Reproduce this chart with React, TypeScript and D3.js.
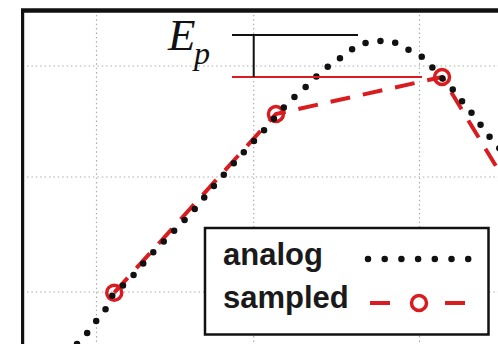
import React from "react";
import * as d3 from "d3";

// Grid positions (time and amplitude units)
const X_TICKS = [1, 2, 3];
const Y_TICKS = [1, 2, 3];

// Continuous (analog) signal
const analogT = [
  0.876, 0.94, 1.003, 1.067, 1.113, 1.188, 1.258, 1.328, 1.468, 1.608, 1.741,
  1.938, 2.074, 2.201, 2.273, 2.346, 2.412, 2.49, 2.569, 2.653, 2.75, 2.84,
  2.925, 3.015, 3.081, 3.147, 3.214, 3.274, 3.334, 3.395, 3.449, 3.515,
];
const analogV = [
  0.548, 0.643, 0.757, 0.87, 0.994, 1.078, 1.183, 1.296, 1.496, 1.696, 1.913,
  2.225, 2.441, 2.658, 2.757, 2.856, 2.955, 3.036, 3.126, 3.198, 3.225, 3.216,
  3.153, 3.081, 2.982, 2.874, 2.766, 2.649, 2.541, 2.414, 2.315, 2.198,
];

// Sampled signal
const sampleT = [1.113, 2.134, 3.136, 4.125];
const sampleV = [0.994, 2.568, 2.901, 0.513];

// Peak-error annotation levels
const EP_TOP = 3.28;
const EP_BOTTOM = 2.9;
const EP_X = 2;
const EP_START = 1.862;
const EP_TOP_END = 2.629;
const EP_BOTTOM_END = 3.015;

const LEGEND_LABELS = ["analog", "sampled"];

const W = 498;
const H = 344;
const RED = "#d91c1f";
const INK = "#111";

const x = d3.scaleLinear().domain(X_TICKS).range([96.5, 253.7, 419.5]);
const y = d3.scaleLinear().domain(Y_TICKS).range([292, 177, 66]);

const X_MIN = 0.53;
const Y_MAX = 3.5;

export default function App() {
  const left = x(X_MIN);
  const top = y(Y_MAX);

  const analogData = analogT.map((t, i) => [t, analogV[i]] as [number, number]);
  const sampleData = sampleT.map((t, i) => [t, sampleV[i]] as [number, number]);

  const analogPath = d3
    .line<[number, number]>()
    .x((d) => x(d[0]))
    .y((d) => y(d[1]))
    .curve(d3.curveCatmullRom.alpha(0.5))(analogData) as string;

  const samplePath = d3
    .line<[number, number]>()
    .x((d) => x(d[0]))
    .y((d) => y(d[1]))(sampleData) as string;

  const lx = 205;
  const ly = 228;
  const lw = 283.5;
  const lh = 106.5;

  return (
    <svg
      width={W}
      height={H}
      style={{ position: "fixed", left: 0, top: 0, display: "block", background: "#fff" }}
    >
      <defs>
        <clipPath id="plot">
          <rect x={left} y={top} width={W - left} height={H - top} />
        </clipPath>
      </defs>

      {/* grid */}
      <g stroke="#a8a8a8" strokeWidth={1.2} strokeDasharray="1.4 3">
        {X_TICKS.map((t) => (
          <line key={"gx" + t} x1={x(t)} x2={x(t)} y1={top} y2={H} />
        ))}
        {Y_TICKS.map((v) => (
          <line key={"gy" + v} x1={left} x2={W} y1={y(v)} y2={y(v)} />
        ))}
      </g>

      <g clipPath="url(#plot)">
        {/* sampled */}
        <path d={samplePath} fill="none" stroke={RED} strokeWidth={4} strokeDasharray="20 13" />
        {sampleData.map((d, i) => (
          <circle key={i} cx={x(d[0])} cy={y(d[1])} r={7.5} fill="none" stroke={RED} strokeWidth={3.5} />
        ))}
        {/* analog */}
        <path
          d={analogPath}
          fill="none"
          stroke={INK}
          strokeWidth={6.5}
          strokeLinecap="round"
          strokeDasharray="0 15"
        />
      </g>

      {/* peak error annotation */}
      <line x1={x(EP_START)} x2={x(EP_TOP_END)} y1={y(EP_TOP)} y2={y(EP_TOP)} stroke={INK} strokeWidth={2} />
      <line x1={x(EP_START)} x2={x(EP_BOTTOM_END)} y1={y(EP_BOTTOM)} y2={y(EP_BOTTOM)} stroke={RED} strokeWidth={2} />
      <line x1={x(EP_X)} x2={x(EP_X)} y1={y(EP_TOP)} y2={y(EP_BOTTOM)} stroke={INK} strokeWidth={2} />
      <text x={168} y={50} fontFamily="'Liberation Serif', serif" fontStyle="italic" fontSize={45} fill={INK}>
        E
        <tspan x={194} y={64} fontSize={32}>
          p
        </tspan>
      </text>

      {/* axes frame */}
      <line x1={left - 1.6} x2={W} y1={top} y2={top} stroke={INK} strokeWidth={4.5} />
      <line x1={left} x2={left} y1={top} y2={H} stroke={INK} strokeWidth={3.2} />

      {/* legend */}
      <rect x={lx} y={ly} width={lw} height={lh} fill="#fff" stroke={INK} strokeWidth={2.5} />
      <g fontFamily="'Liberation Sans', Arial, sans-serif" fontWeight="bold" fontSize={31} fill="#1a1a1a">
        <text x={223} y={265}>{LEGEND_LABELS[0]}</text>
        <text x={223} y={308}>{LEGEND_LABELS[1]}</text>
      </g>
      <line
        x1={368}
        x2={468.2}
        y1={259}
        y2={259}
        stroke={INK}
        strokeWidth={6.5}
        strokeLinecap="round"
        strokeDasharray="0 16.7"
      />
      <line x1={370} x2={390} y1={303} y2={303} stroke={RED} strokeWidth={4} />
      <line x1={445} x2={465} y1={303} y2={303} stroke={RED} strokeWidth={4} />
      <circle cx={419} cy={303} r={7.5} fill="none" stroke={RED} strokeWidth={3.5} />
    </svg>
  );
}
